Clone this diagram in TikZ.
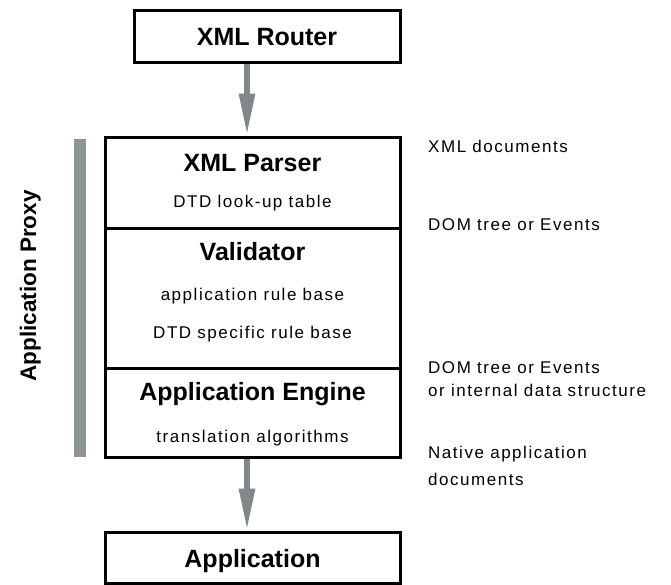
\documentclass[tikz,border=0pt]{standalone}
\usepackage{fontspec}
\setmainfont{Liberation Sans}
\newfontfamily\spc[LetterSpace=9]{Liberation Sans}
\usetikzlibrary{arrows.meta}
\definecolor{flowgray}{RGB}{128,136,138}
\definecolor{bargray}{RGB}{140,148,150}
\begin{document}
\begin{tikzpicture}[x=1pt,y=-1pt,
  box/.style={draw=black,line width=3pt,fill=white,inner sep=0pt,minimum width=295pt},
  title/.style={anchor=base,font=\fontsize{25}{28}\selectfont\bfseries,inner sep=0pt},
  sub/.style={anchor=base,font=\fontsize{17}{20}\selectfont\spc,inner sep=0pt},
  side/.style={anchor=base west,font=\fontsize{17}{20}\selectfont\spc,inner sep=0pt,align=left},
  flow/.style={draw=flowgray,line width=6pt,-{Triangle[width=15pt,length=42pt]},color=flowgray}]
\useasboundingbox (0,0) rectangle (671,584);
% boxes
\node[box,minimum width=266pt,minimum height=52pt] (router) at (267,36) {};
\node[box,minimum height=91pt] (parser) at (252.5,182.5) {};
\node[box,minimum height=140pt] (validator) at (252.5,298) {};
\node[box,minimum height=89pt] (engine) at (252.5,412.5) {};
\node[box,minimum height=51pt] (app) at (252.5,557.5) {};
% arrows
\coordinate (ax) at (247,0);
\draw[flow] (router.south -| ax) -- (parser.north -| ax);
\draw[flow] (engine.south -| ax) -- (app.north -| ax);
% gray bar
\fill[bargray] (74,139) rectangle (86,457);
\node[anchor=base,rotate=90,font=\fontsize{22.5}{26}\selectfont\bfseries,inner sep=0pt] (proxy) at (36,286) {Application Proxy};
% box texts
\node[title] (t1) at (267,45) {XML Router};
\node[title] (t2) at (252.5,171) {XML Parser};
\node[sub] (s2) at (252.5,207) {DTD look-up table};
\node[title] (t3) at (252.5,260) {Validator};
\node[sub] (s3a) at (252.5,300) {application rule base};
\node[sub] (s3b) at (252.5,338) {DTD specific rule base};
\node[title] (t4) at (252.5,400) {Application Engine};
\node[sub] (s4) at (252.5,442) {translation algorithms};
\node[title] (t5) at (252.5,567) {Application};
% side labels
\node[side] (l1) at (428,152) {XML documents};
\node[side] (l2) at (428,230) {DOM tree or Events};
\node[side,font=\fontsize{17}{23}\selectfont\spc] (l3) at (428,396) {DOM tree or Events\\or internal data structure};
\node[side,font=\fontsize{17}{27}\selectfont\spc] (l4) at (428,485) {Native application\\documents};
\end{tikzpicture}
\end{document}
